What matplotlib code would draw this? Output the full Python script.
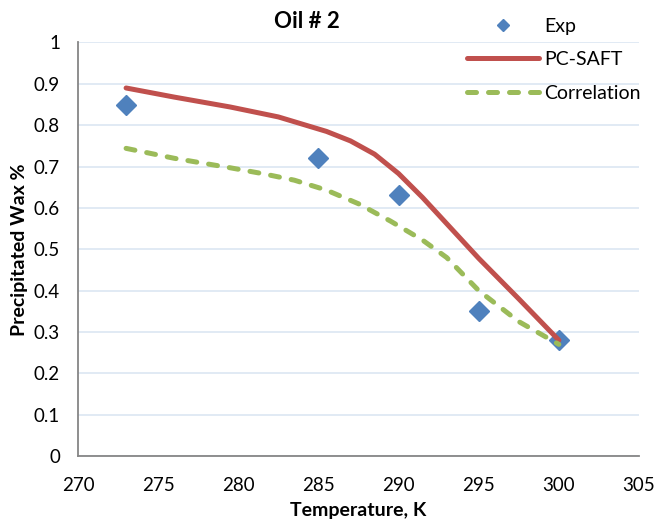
import matplotlib
matplotlib.use("Agg")
import matplotlib.pyplot as plt
from matplotlib.lines import Line2D

plt.rcParams['font.family'] = ['Lato', 'DejaVu Sans']

# Data
exp_T = [273, 285, 290, 295, 300]
exp_w = [0.85, 0.72, 0.63, 0.35, 0.28]

saft_T = [273, 276, 279.5, 282.5, 285.5, 287, 288.5, 290, 291.5, 293, 295, 297.5, 300]
saft_w = [0.89, 0.868, 0.844, 0.82, 0.785, 0.762, 0.73, 0.683, 0.625, 0.562, 0.478, 0.38, 0.28]

corr_T = [273, 276, 279.5, 281.5, 283.5, 285.5, 287.5, 289.5, 291.5, 293, 295, 297.5, 300]
corr_w = [0.744, 0.72, 0.697, 0.683, 0.667, 0.643, 0.61, 0.568, 0.522, 0.48, 0.40, 0.325, 0.27]

x_ticks = [270, 275, 280, 285, 290, 295, 300, 305]
y_ticks = [0, 0.1, 0.2, 0.3, 0.4, 0.5, 0.6, 0.7, 0.8, 0.9, 1]
y_tick_labels = ['0', '0.1', '0.2', '0.3', '0.4', '0.5', '0.6', '0.7', '0.8', '0.9', '1']

blue = '#4F81BD'
red = '#C0504D'
green = '#9BBB59'
dash = (0, (1.8, 2.4))

fig = plt.figure(figsize=(6.57, 5.21), dpi=100)
ax = fig.add_axes([78/657, (521-456)/521, (639-78)/657, (456-42.5)/521])

ax.set_xlim(270, 305)
ax.set_ylim(0, 1)
ax.set_xticks(x_ticks)
ax.set_yticks(y_ticks)
ax.set_xticklabels([str(t) for t in x_ticks])
ax.set_yticklabels(y_tick_labels)
ax.tick_params(axis='both', length=0, labelsize=13.5, colors='black')
ax.tick_params(axis='x', pad=15)
ax.tick_params(axis='y', pad=13)

ax.grid(axis='y', color='#DCE6F2', linewidth=1.2, zorder=0)
ax.set_axisbelow(True)
for s in ['top', 'right']:
    ax.spines[s].set_visible(False)
for s in ['left', 'bottom']:
    ax.spines[s].set_color('#868686')
    ax.spines[s].set_linewidth(1.3)

ax.plot(exp_T, exp_w, linestyle='none', marker='D', markersize=10.5,
        color=blue, zorder=3)
ax.plot(saft_T, saft_w, color=red, linewidth=3.6, solid_capstyle='round',
        solid_joinstyle='round', zorder=4)
ax.plot(corr_T, corr_w, color=green, linewidth=3.6, linestyle=dash,
        dash_capstyle='round', dash_joinstyle='round', zorder=4)

ax.set_xlabel('Temperature, K', fontsize=14, fontweight='bold', labelpad=6)
ax.set_ylabel('Precipitated Wax %', fontsize=14, fontweight='bold', labelpad=4)

fig.text(307/657, 1 - 22/521, 'Oil # 2', ha='center', va='center',
         fontsize=16, fontweight='bold')

handles = [
    Line2D([], [], linestyle='none', marker='D', markersize=6.5, color=blue),
    Line2D([], [], color=red, linewidth=3.6, solid_capstyle='round'),
    Line2D([], [], color=green, linewidth=3.6, linestyle=dash,
           dash_capstyle='round'),
]
leg = fig.legend(handles, ['Exp', 'PC-SAFT', 'Correlation'],
                 loc='upper left', bbox_to_anchor=(459/657, 1 - 10/521),
                 frameon=False, fontsize=14, handlelength=3.7,
                 handletextpad=0.3, labelspacing=0.85, borderaxespad=0)

fig.savefig('out.png', dpi=100)
